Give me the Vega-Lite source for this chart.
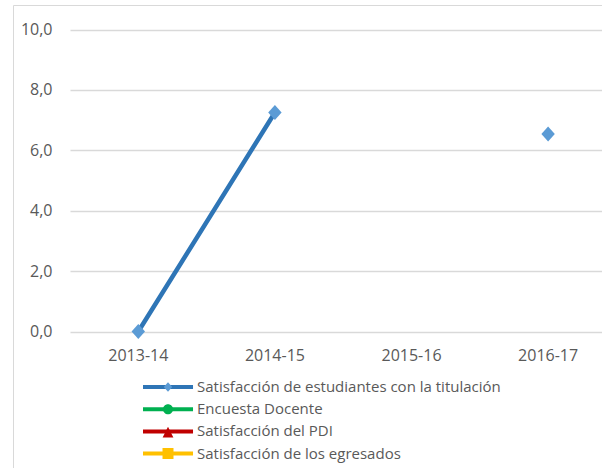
{
  "$schema": "https://vega.github.io/schema/vega-lite/v6.json",
  "autosize": {"type": "none"},
  "padding": {"left": 13, "top": 5, "right": 0, "bottom": 0},
  "width": 650,
  "height": 475,
  "background": "white",
  "config": {
    "locale": {"number": {"decimal": ",", "thousands": ".", "grouping": [3], "currency": ["", " €"]}},
    "view": {"stroke": "#d9d9d9", "strokeWidth": 1},
    "axis": {
      "labelFont": "Open Sans",
      "labelFontSize": 16,
      "labelColor": "#595959",
      "gridColor": "#d9d9d9",
      "gridWidth": 1.3,
      "domain": false,
      "ticks": false,
      "tickSize": 0,
      "title": null
    },
    "legend": {
      "labelFont": "Open Sans",
      "labelFontSize": 15,
      "labelColor": "#595959",
      "labelLimit": 500,
      "title": null,
      "padding": 0
    }
  },
  "data": {
    "values": [
      {"serie": "Satisfacción de estudiantes con la titulación", "periodo": "2013-14", "valor": 0},
      {"serie": "Satisfacción de estudiantes con la titulación", "periodo": "2014-15", "valor": 7.25},
      {"serie": "Satisfacción de estudiantes con la titulación", "periodo": "2015-16", "valor": null},
      {"serie": "Satisfacción de estudiantes con la titulación", "periodo": "2016-17", "valor": 6.54}
    ]
  },
  "encoding": {
    "x": {
      "field": "periodo",
      "type": "nominal",
      "sort": null,
      "scale": {"type": "band", "domain": ["2013-14", "2014-15", "2015-16", "2016-17"], "range": [57, 603.4], "paddingInner": 0, "paddingOuter": 0},
      "axis": {"orient": "bottom", "offset": -148.5, "labelPadding": 16, "labelAngle": 0, "grid": false}
    },
    "y": {
      "field": "valor",
      "type": "quantitative",
      "scale": {"domain": [0, 10], "range": [326.5, 24.5], "nice": false, "zero": false},
      "axis": {"orient": "left", "offset": -57, "values": [0, 2, 4, 6, 8, 10], "format": ".1f", "labelPadding": 18, "grid": true}
    }
  },
  "layer": [
    {
      "mark": {"type": "line", "strokeWidth": 4.5, "invalid": "break-paths-show-domains", "strokeCap": "round"},
      "encoding": {
        "color": {
          "field": "serie",
          "type": "nominal",
          "scale": {
            "domain": ["Satisfacción de estudiantes con la titulación", "Encuesta Docente", "Satisfacción del PDI", "Satisfacción de los egresados"],
            "range": ["#2e75b6", "#00b050", "#c00000", "#ffc000"]
          },
          "legend": {
            "orient": "none", "legendX": 130, "legendY": 371,
            "symbolType": "M-2.78,0H2.78", "symbolSize": 324, "symbolStrokeWidth": 4, "symbolOffset": 14,
            "clipHeight": 22, "labelOffset": 60, "rowPadding": 0.2, "labelExpr": "''"
          }
        }
      }
    },
    {
      "mark": {"type": "point", "filled": true, "size": 817, "opacity": 1, "shape": "M0,-0.52L0.47,0L0,0.52L-0.47,0Z", "fill": "#5b9bd5"}
    },
    {
      "transform": [{"filter": "false"}],
      "mark": {"type": "point", "filled": true, "opacity": 1},
      "encoding": {
        "fill": {
          "field": "serie",
          "type": "nominal",
          "scale": {
            "domain": ["Satisfacción de los egresados", "Satisfacción del PDI", "Encuesta Docente", "Satisfacción de estudiantes con la titulación"],
            "range": ["#ffc000", "#c00000", "#00b050", "#5b9bd5"]
          },
          "legend": {
            "orient": "none", "legendX": 130, "legendY": 371,
            "values": ["Satisfacción de estudiantes con la titulación", "Encuesta Docente", "Satisfacción del PDI", "Satisfacción de los egresados"],
            "symbolSize": 324, "symbolStrokeWidth": 4, "symbolStrokeColor": "transparent", "symbolOffset": 14,
            "clipHeight": 22, "labelOffset": 18, "rowPadding": 0.2
          }
        },
        "shape": {
          "field": "serie",
          "type": "nominal",
          "scale": {
            "domain": ["Satisfacción de los egresados", "Satisfacción del PDI", "Encuesta Docente", "Satisfacción de estudiantes con la titulación"],
            "range": ["M-0.61,-0.61H0.61V0.61H-0.61Z", "M0,-0.52L0.6,0.67L-0.6,0.67Z", "M-0.56,0A0.56,0.56,0,1,0,0.56,0A0.56,0.56,0,1,0,-0.56,0Z", "M0,-0.52L0.47,0L0,0.52L-0.47,0Z"]
          },
          "legend": {
            "orient": "none", "legendX": 130, "legendY": 371,
            "values": ["Satisfacción de estudiantes con la titulación", "Encuesta Docente", "Satisfacción del PDI", "Satisfacción de los egresados"],
            "symbolSize": 324, "symbolStrokeWidth": 4, "symbolStrokeColor": "transparent", "symbolOffset": 14,
            "clipHeight": 22, "labelOffset": 18, "rowPadding": 0.2
          }
        }
      }
    }
  ]
}
